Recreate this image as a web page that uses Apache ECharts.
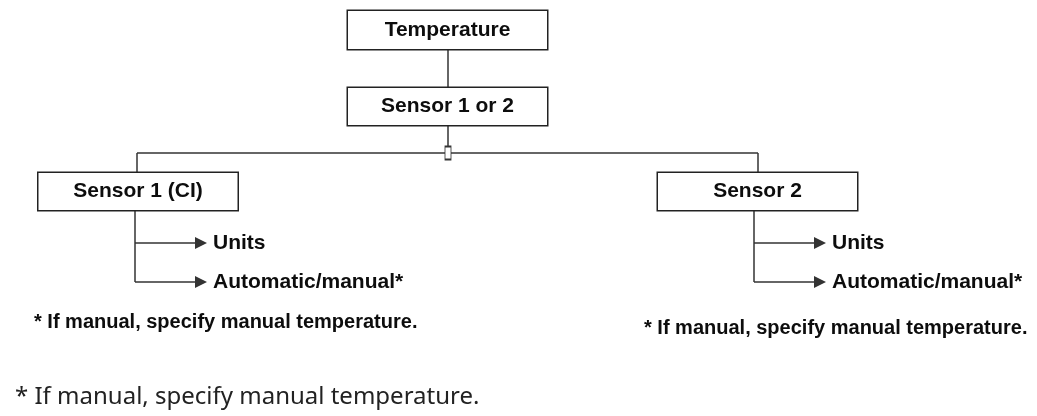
<!DOCTYPE html>
<html>
<head>
<meta charset="utf-8">
<style>
  html, body { margin: 0; padding: 0; background: #fff; }
  #chart { width: 1037px; height: 416px; }
</style>
<script src="https://cdn.jsdelivr.net/npm/echarts@6/dist/echarts.min.js"></script>
</head>
<body>
<div id="chart"></div>
<script>
// box labels of the menu tree
const rootLabel = 'Temperature';
const selectLabel = 'Sensor 1 or 2';
const sensorLabels = ['Sensor 1 (CI)', 'Sensor 2'];
// items under each sensor
const branchLabels = ['Units', 'Automatic/manual*'];
const figureNote = '* If manual, specify manual temperature.';
const pageNote = '* If manual, specify manual temperature.';

// layout (pixel space of a hidden 0..1037 x 0..416 grid)
const boxW = 201, boxH = 39;
const rootPos = [447.5, 30];
const selectPos = [447.5, 106.5];
const sensorPos = [[138, 191.5], [757.5, 191.5]];
const hubY = 153;
const trunkX = [135, 754];     // vertical line under each sensor box
const dropX = [137, 758];      // vertical line above each sensor box
const branchY = [243, 282];
const arrowLen = 70;
const figureNotePos = [[34, 322], [644, 328]];
const pageNotePos = [15, 397];

const nodes = [];
const links = [];
const fontFam = "'Liberation Sans', Arial, sans-serif";
const boxFont = { fontFamily: fontFam, fontWeight: 'bold', fontSize: 21, color: '#0d0d0d' };

function box(id, text, pos, h) {
  h = h || boxH;
  nodes.push({
    name: id, value: pos, symbolSize: 0,
    label: Object.assign({
      show: true, position: 'inside', formatter: text,
      width: boxW - 2, height: h - 2, lineHeight: h - 2, padding: 0,
      align: 'center', verticalAlign: 'middle',
      backgroundColor: '#fff', borderColor: '#222', borderWidth: 1.5
    }, boxFont)
  });
}
function point(id, pos, text, font) {
  const n = { name: id, value: pos, symbolSize: 0, label: { show: false } };
  if (text) {
    n.label = Object.assign({ show: true, position: 'right', distance: 12, formatter: text }, font || boxFont);
  }
  nodes.push(n);
}
function link(a, b, arrow) {
  const l = { source: a, target: b };
  if (arrow) { l.symbol = ['none', 'triangle']; l.symbolSize = [0, 12]; }
  links.push(l);
}

box('root', rootLabel, rootPos, 40);
box('select', selectLabel, selectPos);
point('rootBot', [448, 50]);
point('selTop', [448, 87]);
point('selBot', [448, 126]);
nodes.push({
  name: 'hub', value: [448, hubY], symbol: 'rect', symbolSize: [6, 13],
  itemStyle: { color: '#fff', borderColor: '#333', borderWidth: 1.2 }, label: { show: false }
});
link('rootBot', 'selTop');
link('selBot', 'hub');

sensorLabels.forEach((s, i) => {
  const k = 's' + i;
  point(k + 'h', [dropX[i], hubY]);
  point(k + 'top', [dropX[i], sensorPos[i][1] - boxH / 2]);
  point(k + 'bot', [trunkX[i], sensorPos[i][1] + boxH / 2]);
  link('hub', k + 'h');
  link(k + 'h', k + 'top');
  box(k, s, sensorPos[i]);
  let prev = k + 'bot';
  branchLabels.forEach((b, j) => {
    const jn = k + 'j' + j;
    point(jn, [trunkX[i], branchY[j]]);
    point(jn + 't', [trunkX[i] + arrowLen - 4, branchY[j]], b);
    link(prev, jn);
    link(jn, jn + 't', true);
    prev = jn;
  });
  point('fn' + i, figureNotePos[i], figureNote,
    { fontFamily: fontFam, fontWeight: 'bold', fontSize: 20, color: '#0d0d0d', distance: 0 });
});
point('page', pageNotePos, pageNote,
  { fontFamily: 'Noto Sans', fontWeight: 'normal', fontSize: 24, color: '#222', distance: 0 });

const chart = echarts.init(document.getElementById('chart'));
chart.setOption({
  animation: false,
  backgroundColor: '#fff',
  grid: { left: 0, right: 0, top: 0, bottom: 0 },
  xAxis: { type: 'value', min: 0, max: 1037, show: false },
  yAxis: { type: 'value', min: 0, max: 416, inverse: true, show: false },
  series: [{
    type: 'graph',
    coordinateSystem: 'cartesian2d',
    layout: 'none',
    silent: true,
    data: nodes,
    links: links,
    lineStyle: { color: '#333', width: 1.5, opacity: 1, curveness: 0 },
    itemStyle: { color: '#111' }
  }]
});
</script>
</body>
</html>
